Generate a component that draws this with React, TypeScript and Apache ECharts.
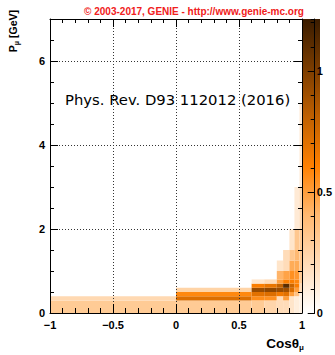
import React, { useEffect, useRef } from "react";
import * as echarts from "echarts";

// cos(theta_mu) bin edges (slices)
const cosEdges = [-1, 0, 0.6, 0.7, 0.8, 0.85, 0.9, 0.94, 0.98, 1];

// momentum bin edges (GeV) per cos slice
const momentumEdges = [
  [0, 0.3, 0.4],
  [0, 0.3, 0.4, 0.5, 0.6],
  [0, 0.3, 0.4, 0.5, 0.6, 0.7, 0.8],
  [0, 0.3, 0.4, 0.5, 0.6, 0.7, 0.8],
  [0, 0.4, 0.5, 0.6, 0.7, 0.8, 1.0, 1.25],
  [0, 0.3, 0.4, 0.5, 0.6, 0.7, 0.8, 1.0, 1.5],
  [0, 0.4, 0.5, 0.6, 0.7, 0.8, 1.0, 1.25, 1.5, 2.0],
  [0, 0.4, 0.5, 0.6, 0.7, 0.8, 1.0, 1.25, 1.5, 2.0, 3.0],
  [0, 0.5, 0.7, 1.0, 1.5, 2.0, 3.0, 5.0],
];

// bin contents per cos slice
const binValues = [
  [0.3, 0.22],
  [0.3, 0.72, 0.58, 0.25],
  [0.3, 0.56, 0.7, 0.92, 0.62, 0.14],
  [0.24, 0.55, 0.72, 0.95, 0.68, 0.2],
  [0.2, 0.65, 0.92, 0.8, 0.5, 0.42, 0.15],
  [0.2, 0.5, 0.7, 0.9, 1.12, 0.62, 0.48, 0.2],
  [0.15, 0.5, 0.72, 0.78, 0.62, 0.55, 0.45, 0.32, 0.15],
  [0.1, 0.35, 0.5, 0.62, 0.58, 0.52, 0.45, 0.4, 0.32, 0.12],
  [0.08, 0.2, 0.3, 0.32, 0.3, 0.22, 0.12],
];

const zMax = 1.215;
const paletteColors = ["#ffffff", "#ffdcb8", "#ffb870", "#ff8000", "#c06000", "#7a3c00", "#3a1c00"];

const FONT = "'Liberation Sans', Arial, Helvetica, sans-serif";

function buildCells() {
  const cells: number[][] = [];
  for (let i = 0; i < cosEdges.length - 1; i++) {
    const edges = momentumEdges[i];
    const vals = binValues[i];
    for (let j = 0; j < vals.length; j++) {
      cells.push([cosEdges[i], cosEdges[i + 1], edges[j], edges[j + 1], vals[j]]);
    }
  }
  return cells;
}

export default function App() {
  const ref = useRef<HTMLDivElement>(null);
  useEffect(() => {
    if (!ref.current) return;
    const chart = echarts.init(ref.current, undefined, { renderer: "svg" });
    const black = { color: "#000", width: 1 };
    const labelStyle = { fontFamily: FONT, fontWeight: "bold" as const, fontSize: 11, color: "#000" };
    const dotted = { color: "#333", width: 1, type: [1, 2] as any };
    const noLine = { show: false, onZero: false };
    const frameLine = { show: true, onZero: false, lineStyle: black };

    // colour bar geometry (layout only)
    const barX = 302, barY = 19, barW = 18, barH = 294;

    const option: any = {
      animation: false,
      grid: [
        { left: 50, top: 19, width: 252, height: 294, show: false },
        { left: barX, top: barY, width: barW, height: barH, show: false },
      ],
      xAxis: [
        {
          gridIndex: 0, type: "value", min: -1, max: 1, interval: 0.5, position: "bottom", z: 10,
          axisLine: frameLine,
          axisTick: { show: true, inside: true, length: 9, lineStyle: black },
          minorTick: { show: true, splitNumber: 5, length: 5, lineStyle: black },
          splitLine: { show: true, lineStyle: dotted },
          axisLabel: { ...labelStyle, margin: 6, formatter: (v: number) => String(v).replace("-", "\u2212") },
        },
        {
          gridIndex: 0, type: "value", min: -1, max: 1, interval: 0.5, position: "top", z: 10,
          axisLine: frameLine,
          axisTick: { show: true, inside: true, length: 8, lineStyle: black },
          minorTick: { show: true, splitNumber: 5, length: 4, lineStyle: black },
          splitLine: { show: false },
          axisLabel: { show: false },
        },
        { gridIndex: 1, type: "value", min: 0, max: 1, show: false, axisLine: noLine },
      ],
      yAxis: [
        {
          gridIndex: 0, type: "value", min: 0, max: 7, interval: 2, position: "left", z: 10,
          axisLine: frameLine,
          axisTick: { show: true, inside: true, length: 8, lineStyle: black },
          splitLine: { show: true, lineStyle: dotted },
          axisLabel: { ...labelStyle, margin: 5, showMaxLabel: false },
        },
        {
          gridIndex: 0, type: "value", min: 0, max: 7, interval: 0.5, position: "left", z: 10,
          axisLine: noLine,
          axisTick: { show: true, inside: true, length: 4, lineStyle: black },
          splitLine: { show: false },
          axisLabel: { show: false },
        },
        {
          gridIndex: 0, type: "value", min: 0, max: 7, interval: 2, position: "right", z: 10,
          axisLine: frameLine,
          axisTick: { show: true, inside: true, length: 8, lineStyle: black },
          splitLine: { show: false },
          axisLabel: { show: false },
        },
        {
          gridIndex: 0, type: "value", min: 0, max: 7, interval: 0.5, position: "right", z: 10,
          axisLine: noLine,
          axisTick: { show: true, inside: true, length: 4, lineStyle: black },
          splitLine: { show: false },
          axisLabel: { show: false },
        },
        {
          gridIndex: 1, type: "value", min: 0, max: zMax, interval: 0.5, position: "right", z: 10,
          axisLine: frameLine,
          axisTick: { show: true, inside: true, length: 7, lineStyle: black },
          splitLine: { show: false },
          axisLabel: { ...labelStyle, margin: 2, showMaxLabel: false },
        },
        {
          gridIndex: 1, type: "value", min: 0, max: zMax, interval: 0.1, position: "right", z: 10,
          axisLine: noLine,
          axisTick: { show: true, inside: true, length: 4, lineStyle: black },
          splitLine: { show: false },
          axisLabel: { show: false },
        },
      ],
      visualMap: {
        type: "continuous",
        show: false,
        seriesIndex: 0,
        dimension: 4,
        min: 0,
        max: zMax,
        inRange: { color: paletteColors },
      },
      series: [
        {
          type: "custom",
          xAxisIndex: 0,
          yAxisIndex: 0,
          clip: true,
          z: 2,
          encode: { x: [0, 1], y: [2, 3] },
          data: buildCells(),
          renderItem: (params: any, api: any) => {
            const p0 = api.coord([api.value(0), api.value(2)]);
            const p1 = api.coord([api.value(1), api.value(3)]);
            return {
              type: "rect",
              shape: { x: p0[0], y: p1[1], width: p1[0] - p0[0], height: p0[1] - p1[1] },
              style: { fill: api.visual("color"), stroke: null },
            };
          },
        },
      ],
      graphic: [
        {
          type: "rect", z: 0,
          shape: { x: barX, y: barY, width: barW, height: barH },
          style: {
            fill: new echarts.graphic.LinearGradient(
              0, 1, 0, 0,
              paletteColors.map((c, i) => ({ offset: i / (paletteColors.length - 1), color: c }))
            ),
          },
        },
        {
          type: "text", x: 194, y: 11, z: 100,
          style: {
            text: "\u00a9 2003-2017, GENIE - http://www.genie-mc.org",
            fill: "#f02020", fontFamily: FONT, fontWeight: "bold", fontSize: 10,
            align: "center", verticalAlign: "middle", textAlign: "center", textVerticalAlign: "middle",
          },
        },
        {
          type: "text", x: 65, y: 99, z: 100,
          style: {
            text: "Phys. Rev. D93 112012 (2016)",
            fill: "#000", fontFamily: "'DejaVu Sans', sans-serif", fontSize: 14.8,
            align: "left", verticalAlign: "middle", textAlign: "left", textVerticalAlign: "middle",
          },
        },
        {
          type: "text", x: 13, y: 10, z: 100, rotation: Math.PI / 2,
          style: {
            text: "{a|P}{s|\u03bc}{a| [GeV]}",
            align: "right", verticalAlign: "middle", textAlign: "right", textVerticalAlign: "middle",
            rich: {
              a: { fontFamily: FONT, fontWeight: "bold", fontSize: 10.5, fill: "#000", lineHeight: 14, verticalAlign: "middle" },
              s: { fontFamily: FONT, fontWeight: "bold", fontSize: 7, fill: "#000", lineHeight: 7, verticalAlign: "bottom" },
            },
          },
        },
        {
          type: "text", x: 304, y: 343, z: 100,
          style: {
            text: "{a|Cos\u03b8}{s|\u03bc}",
            align: "right", verticalAlign: "middle", textAlign: "right", textVerticalAlign: "middle",
            rich: {
              a: { fontFamily: FONT, fontWeight: "bold", fontSize: 13.5, fill: "#000", lineHeight: 16, verticalAlign: "middle" },
              s: { fontFamily: FONT, fontWeight: "bold", fontSize: 8, fill: "#000", lineHeight: 8, verticalAlign: "bottom" },
            },
          },
        },
      ],
    };
    chart.setOption(option);
    return () => chart.dispose();
  }, []);
  return <div ref={ref} style={{ position: "absolute", left: 0, top: 0, width: 335, height: 355 }} />;
}
